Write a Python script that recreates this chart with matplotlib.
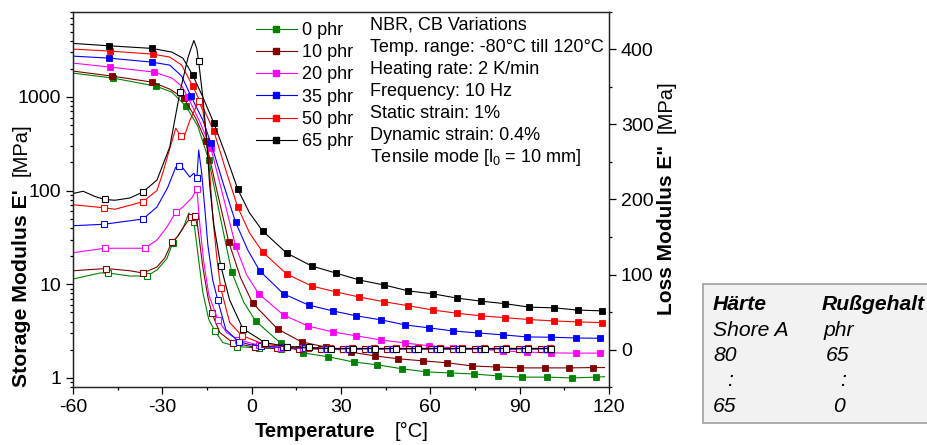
import matplotlib
matplotlib.use("Agg")
import matplotlib.pyplot as plt
from matplotlib.lines import Line2D
from matplotlib.patches import Rectangle
from matplotlib.ticker import FixedLocator, NullFormatter

plt.rcParams['font.family'] = ['Liberation Sans', 'DejaVu Sans']
plt.rcParams['axes.unicode_minus'] = False
plt.rcParams['mathtext.fontset'] = 'custom'
plt.rcParams['mathtext.rm'] = 'Liberation Sans'

W, H = 928, 445

# storage modulus E' [MPa] (left, log)
T_sp65 = [-60, -47.9, -33.5, -26.8, -23.1, -19.8, -16.4, -12.7, -8.7, -4.7, -0.7, 3.7, 11.7, 20.1, 28.2, 36.2, 44.6, 52.6, 61.0, 69.1, 77.1, 85.2, 93.2, 101.6, 109.6, 117.7]
E_sp65 = [3733, 3518, 3302, 3015, 2600, 1714, 997, 526, 240, 104, 57.7, 37, 21.6, 15.7, 13.2, 11.1, 9.8, 8.5, 7.9, 7.1, 6.6, 6.2, 5.7, 5.6, 5.3, 5.2]
T_sp50 = [-60, -47.6, -33.2, -27.5, -23.5, -19.8, -16.4, -12.7, -8.7, -4.7, -0.7, 3.7, 11.7, 20.1, 28.2, 36.2, 44.6, 52.6, 61.0, 69.1, 77.1, 85.2, 93.2, 101.6, 109.6, 117.7]
E_sp50 = [3245, 3090, 2870, 2667, 2190, 1306, 780, 432, 166, 66.8, 35.3, 22.1, 12.9, 9.6, 8.3, 7.3, 6.5, 5.9, 5.3, 4.9, 4.6, 4.4, 4.2, 4.06, 3.96, 3.9]
T_sp35 = [-60, -47.9, -33.5, -27.5, -23.5, -20.4, -16.4, -13.7, -9.4, -5.4, -1.3, 2.7, 10.7, 19.1, 27.2, 35.2, 43.6, 51.6, 59.7, 67.7, 76.1, 84.5, 92.5, 100.6, 109.0, 117.0]
E_sp35 = [2730, 2600, 2355, 2190, 1670, 1023, 567, 322, 115, 46, 23.2, 13.9, 7.9, 6.0, 5.2, 4.6, 4.16, 3.68, 3.42, 3.17, 3.02, 2.88, 2.74, 2.72, 2.67, 2.65]
T_sp20 = [-60, -47.6, -32.8, -26.8, -23.5, -21.4, -17.4, -13.7, -9.7, -5.4, -1.7, 2.4, 10.7, 18.8, 27.2, 35.2, 43.6, 51.6, 59.7, 67.7, 76.1, 84.5, 92.5, 100.6, 109.0, 117.0]
E_sp20 = [2300, 2085, 1845, 1593, 1306, 997, 540, 285, 90, 25.6, 12.6, 7.9, 4.7, 3.59, 3.10, 2.81, 2.54, 2.36, 2.20, 2.09, 2.04, 1.94, 1.89, 1.85, 1.84, 1.84]
T_sp10 = [-60, -46.9, -33.5, -27.5, -22.8, -18.8, -15.4, -11.7, -7.7, -3.7, 0.3, 8.7, 16.8, 24.8, 33.2, 41.3, 49.3, 57.7, 65.7, 74.1, 82.1, 90.2, 98.6, 106.6, 114.7, 118.5]
E_sp10 = [1890, 1671, 1442, 1214, 968, 596, 338, 101, 28.3, 11.7, 6.3, 3.33, 2.42, 2.14, 1.89, 1.72, 1.60, 1.52, 1.45, 1.34, 1.31, 1.28, 1.28, 1.28, 1.29, 1.29]
T_sp0 = [-60, -46.6, -32.2, -26.8, -22.1, -18.1, -14.4, -10.7, -6.7, -2.7, 1.3, 9.7, 17.4, 25.8, 34.2, 42.2, 50.6, 58.7, 66.7, 74.8, 82.8, 90.9, 99.2, 107.6, 115.7, 118.5]
E_sp0 = [1799, 1591, 1306, 1128, 800, 489, 212, 55, 13.5, 6.47, 4.06, 2.36, 1.85, 1.68, 1.48, 1.38, 1.25, 1.16, 1.13, 1.10, 1.05, 1.02, 1.02, 1.0, 1.02, 1.03]

# loss modulus E'' [MPa] (right, linear)
T_ls65 = [-60, -56.6, -52.6, -49.3, -45.9, -40.9, -36.5, -31.8, -27.5, -24.1, -21.4, -20.4, -19.4, -18.4, -17.8, -16.4, -15.1, -14.1, -12.7, -10.4, -7.4, -3.0,
          4.4, 11.7, 19.1, 26.5, 33.9, 41.3, 48.6, 56.0, 63.4, 70.8, 78.2, 85.5, 92.9, 100.6]
E_ls65 = [208, 211, 204, 200, 199, 202, 210, 226, 270, 343, 389, 401, 412, 401, 384, 336, 279, 219, 166, 112, 66, 28,
          9.3, 4.0, 2.7, 1.3, 1.3, 1.3, 1.3, 1.3, 1.3, 1.3, 1.3, 1.3, 1.3, 1.3]
T_ls50 = [-60, -49.6, -45.9, -36.5, -31.8, -29.8, -27.5, -25.5, -23.8, -22.8, -20.8, -17.8, -16.4, -15.1, -14.1, -13.1, -11.7, -10.4, -7.4, -3.3,
          4.1, 11.5, 18.9, 26.3, 33.7, 41.1, 48.5, 55.9, 63.3, 70.7, 78.1, 85.5, 92.9, 100.3]
E_ls50 = [193, 189, 187, 197, 212, 236, 268, 295, 284, 282, 305, 331, 319, 283, 236, 179, 122, 82, 36, 18.6,
          7.0, 3.5, 2.0, 1.5, 1.5, 1.5, 1.5, 1.5, 1.5, 1.5, 1.5, 1.5, 1.5, 1.5]
T_ls35 = [-60, -49.6, -36.5, -31.8, -28.2, -25.5, -24.5, -23.1, -20.8, -19.4, -18.4, -17.8, -16.8, -15.7, -14.7, -13.1, -11.4, -8.7, -4.4, -0.7,
          3.0, 10.4, 17.8, 25.2, 32.6, 40.0, 47.4, 54.8, 62.2, 69.6, 77.0, 84.4, 91.8, 99.2]
E_ls35 = [165, 167, 174, 190, 216, 243, 244, 242, 230, 235, 228, 266, 236, 186, 139, 93, 66, 26.6, 10.6, 6.6,
          4.5, 2.7, 1.8, 1.0, 1.0, 1.0, 1.0, 1.0, 1.0, 1.0, 1.0, 1.0, 1.0, 1.0]
T_ls20 = [-60, -49.3, -35.9, -31.8, -28.5, -25.5, -23.1, -20.1, -18.4, -17.4, -16.1, -14.4, -11.4, -8.4, -4.7,
          2.6, 10.0, 17.4, 24.8, 32.2, 39.6, 47.0, 54.4, 61.8, 69.2, 76.6, 84.0, 91.4, 98.8]
E_ls20 = [129, 135, 135, 146, 163, 183, 190, 202, 214, 166, 117, 73, 40, 22.6, 13.3,
          5.5, 2.5, 1.8, 1.2, 1.2, 1.2, 1.2, 1.2, 1.2, 1.2, 1.2, 1.2, 1.2, 1.2]
T_ls10 = [-60, -48.9, -40.9, -36.5, -31.8, -29.2, -26.8, -24.8, -23.1, -20.4, -19.1, -18.1, -16.4, -14.7, -13.4, -10.7, -6.4,
          1.0, 8.4, 15.8, 23.2, 30.6, 38.0, 45.4, 52.8, 60.2, 67.6, 75.0, 82.4, 89.8, 97.2]
E_ls10 = [105, 108, 105, 102, 110, 122, 143, 151, 162, 177, 178, 163, 110, 70, 49, 22.6, 9.3,
          3.0, 1.5, 1.0, 0.8, 0.8, 0.8, 0.8, 0.8, 0.8, 0.8, 0.8, 0.8, 0.8, 0.8]
T_ls0 = [-60, -50.9, -48.3, -40.9, -35.2, -31.8, -28.5, -26.5, -23.1, -21.1, -19.4, -18.1, -16.4, -14.4, -12.4, -9.7, -5.0,
         2.4, 9.8, 17.2, 24.6, 32.0, 39.4, 46.8, 54.2, 61.6, 69.0, 76.4, 83.8, 91.2, 98.6]
E_ls0 = [94, 102, 102, 98, 98, 106, 121, 142, 161, 182, 170, 129, 76, 40, 25, 9.3, 4.0,
         2.0, 1.2, 1.0, 0.9, 0.9, 0.9, 0.9, 0.9, 0.9, 0.9, 0.9, 0.9, 0.9, 0.9]

labels = ['0 phr', '10 phr', '20 phr', '35 phr', '50 phr', '65 phr']
colors = ['#008000', '#800000', '#ff00ff', '#0000ff', '#ff0000', '#000000']

storage = [(T_sp0, E_sp0), (T_sp10, E_sp10), (T_sp20, E_sp20), (T_sp35, E_sp35), (T_sp50, E_sp50), (T_sp65, E_sp65)]
loss = [(T_ls0, E_ls0), (T_ls10, E_ls10), (T_ls20, E_ls20), (T_ls35, E_ls35), (T_ls50, E_ls50), (T_ls65, E_ls65)]

# which points carry a marker
mk_sp = [[1, 2, 4, 6, 8] + list(range(10, 25)), [1, 2, 4, 6, 8] + list(range(10, 25))] + \
        [[1, 2, 5, 7, 9] + list(range(11, 26))] * 4
mk_ls = [[2, 4, 7, 10, 14, 16] + list(range(17, 31)),
         [1, 3, 6, 9, 10, 14, 16] + list(range(17, 31)),
         [1, 2, 5, 8, 12, 14] + list(range(15, 29)),
         [1, 2, 6, 10, 16, 18] + list(range(20, 34)),
         [1, 3, 8, 11, 17, 19] + list(range(20, 34)),
         [3, 6, 9, 14, 19, 21] + list(range(22, 36))]

info_lines = ['NBR, CB Variations', 'Temp. range: -80°C till 120°C', 'Heating rate: 2 K/min',
              'Frequency: 10 Hz', 'Static strain: 1%', 'Dynamic strain: 0.4%',
              r'Tensile mode [l$_\mathregular{0}$ = 10 mm]']
box_col1 = ['Härte', 'Shore A', '80', ':', '65']
box_col2 = ['Rußgehalt', 'phr', '65', ':', '0']


def fx(x):
    return x / W


def fy(y):
    return 1 - y / H


fig = plt.figure(figsize=(W / 100, H / 100), dpi=100)
ax = fig.add_axes([fx(73), fy(387), (609 - 73) / W, (387 - 12) / H])
ax2 = ax.twinx()

for (t, e), c, m in zip(storage, colors, mk_sp):
    ax.plot(t, e, color=c, lw=0.8, marker='s', ms=3.8, mfc=c, mec=c, mew=0.6, markevery=m)
for (t, e), c, m in zip(loss, colors, mk_ls):
    ax2.plot(t, e, color=c, lw=0.8, marker='s', ms=3.8, mfc='white', mec=c, mew=0.8, markevery=m)

ax.set_yscale('log')
ax.set_xlim(-60, 120)
ax.set_ylim(0.8, 8080)
ax2.set_ylim(-50, 450)

ax.set_xticks([-60, -30, 0, 30, 60, 90, 120])
ax.xaxis.set_minor_locator(FixedLocator([-45, -15, 15, 45, 75, 105]))
ax.set_yticks([1, 10, 100, 1000])
ax.set_yticklabels(['1', '10', '100', '1000'])
minors = [0.8, 0.9] + [k * d for d in (1, 10, 100, 1000) for k in range(2, 10)]
ax.yaxis.set_minor_locator(FixedLocator(minors))
ax.yaxis.set_minor_formatter(NullFormatter())
ax2.set_yticks([0, 100, 200, 300, 400])
ax2.yaxis.set_minor_locator(FixedLocator([-50, 50, 150, 250, 350, 450]))

for a in (ax, ax2):
    a.tick_params(which='major', direction='out', length=5, width=0.9, labelsize=14, pad=3.5)
    a.tick_params(which='minor', direction='out', length=2.5, width=0.9)
    for s in a.spines.values():
        s.set_linewidth(0.9)
        s.set_color('#222222')

# legend
handles = [Line2D([], [], color=c, lw=0.8, marker='s', ms=3.8, mfc=c, mec=c) for c in colors]
ax2.legend(handles, labels, loc='upper left', bbox_to_anchor=(fx(256), fy(22)),
           bbox_transform=fig.transFigure, frameon=False, fontsize=13, numpoints=1,
           handlelength=2.27, handletextpad=0.28, labelspacing=0.29, borderpad=0, borderaxespad=0)

for i, line in enumerate(info_lines):
    fig.text(fx(370), fy(30 + 22 * i), line, fontsize=13, va='baseline', ha='left')

# axis titles: bold name + plain unit
fig.text(fx(27), fy(387), "Storage Modulus E'", fontsize=15.3, fontweight='bold', rotation=90,
         rotation_mode='anchor', ha='left', va='baseline')
fig.text(fx(27), fy(176), '[MPa]', fontsize=14.5, rotation=90, rotation_mode='anchor', ha='left', va='baseline')
fig.text(fx(672), fy(315), 'Loss Modulus E"', fontsize=15, fontweight='bold', rotation=90,
         rotation_mode='anchor', ha='left', va='baseline')
fig.text(fx(672), fy(133), '[MPa]', fontsize=14.5, rotation=90, rotation_mode='anchor', ha='left', va='baseline')
fig.text(fx(255), fy(437), 'Temperature', fontsize=14.5, fontweight='bold', ha='left', va='baseline')
fig.text(fx(395), fy(437), '[°C]', fontsize=14.5, ha='left', va='baseline')

# hardness box at the lower right
fig.patches.append(Rectangle((fx(703), fy(423)), 0.3, (423 - 284) / H, transform=fig.transFigure,
                             facecolor='#f2f2f2', edgecolor='#a0a0a0', lw=1.2, clip_on=False))
col1_x = [713, 713, 713, 727, 713]
col2_x = [822, 824, 826, 840, 833]
for i, (a, b) in enumerate(zip(box_col1, box_col2)):
    yb = 310 + 25.5 * i
    w = 'bold' if i == 0 else 'normal'
    fig.text(fx(col1_x[i]), fy(yb), a, fontsize=15.2, style='italic', fontweight=w, va='baseline')
    fig.text(fx(col2_x[i]), fy(yb), b, fontsize=15.2, style='italic', fontweight=w, va='baseline')

fig.savefig('out.png', dpi=100)
